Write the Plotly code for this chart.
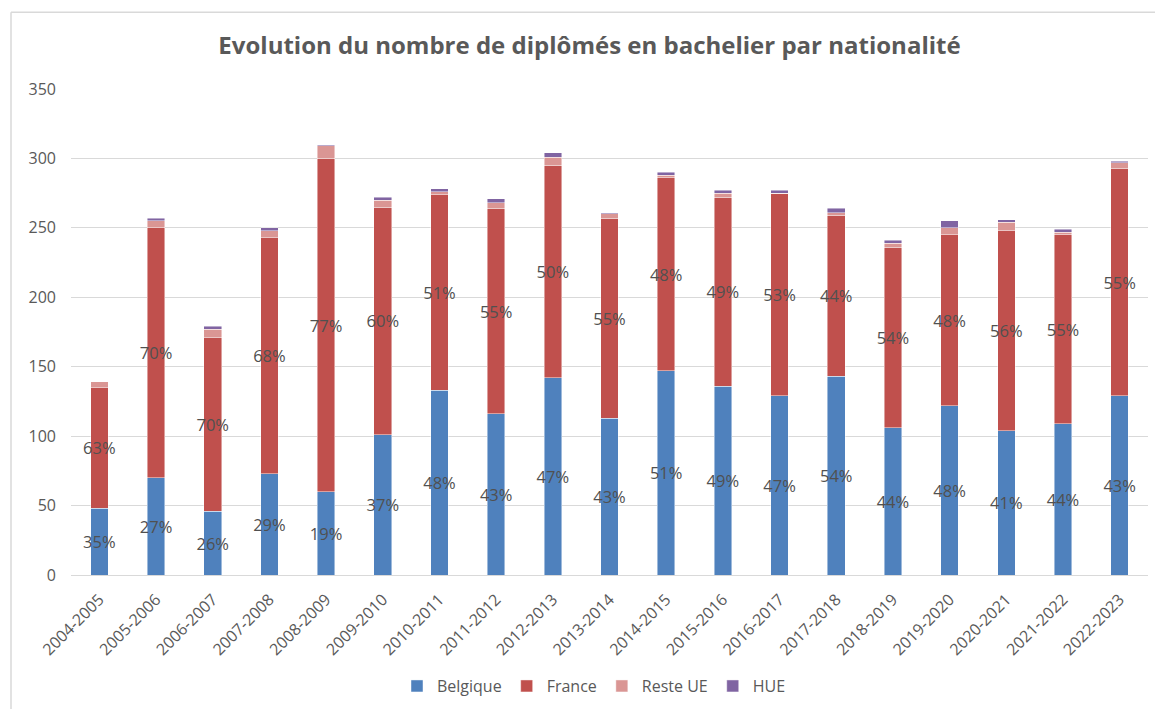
import plotly.graph_objects as go

years = ["2004-2005", "2005-2006", "2006-2007", "2007-2008", "2008-2009", "2009-2010",
         "2010-2011", "2011-2012", "2012-2013", "2013-2014", "2014-2015", "2015-2016",
         "2016-2017", "2017-2018", "2018-2019", "2019-2020", "2020-2021", "2021-2022",
         "2022-2023"]
belgique = [48, 70, 46, 73, 60, 101, 133, 116, 142, 113, 147, 136, 129, 143, 106, 122, 104, 109, 129]
france = [87, 180, 125, 170, 240, 164, 141, 148, 153, 144, 139, 136, 146, 116, 130, 123, 144, 136, 164]
reste_ue = [4, 5, 6, 5, 9, 5, 2, 4, 6, 3, 2, 3, 0, 2, 3, 5, 6, 2, 4]
hue = [0, 2, 2, 2, 1, 2, 2, 3, 3, 1, 2, 2, 2, 3, 2, 5, 2, 2, 1]

totals = [b + f + r + h for b, f, r, h in zip(belgique, france, reste_ue, hue)]
pct_bel = [f"{round(b / t * 100)}%" for b, t in zip(belgique, totals)]
pct_fra = [f"{round(f / t * 100)}%" for f, t in zip(france, totals)]

FONT = "Open Sans"
GRAY = "#595959"
LABEL = "#505050"

fig = go.Figure()
series = [
    ("Belgique", belgique, "#4F81BD", pct_bel),
    ("France", france, "#C0504D", pct_fra),
    ("Reste UE", reste_ue, "#DA9694", None),
    ("HUE", hue, "#8064A2", None),
]
for name, vals, color, txt in series:
    kw = {}
    if txt is not None:
        kw = dict(text=txt, textposition="inside", insidetextanchor="middle",
                  textangle=0, constraintext="none",
                  insidetextfont=dict(family=FONT, size=16.5, color=LABEL))
    fig.add_trace(go.Bar(
        name=name, x=years, y=vals,
        marker=dict(color=color, line=dict(color="rgba(255,255,255,0.6)", width=0.75)),
        hoverinfo="x+y+name", **kw))

fig.update_layout(
    barmode="stack",
    bargap=0.69,
    width=1155, height=709, autosize=False,
    paper_bgcolor="white", plot_bgcolor="white",
    margin=dict(l=71, r=7, t=89, b=133),
    font=dict(family=FONT, color=GRAY),
    title=dict(text="<b>Evolution du nombre de diplômés en bachelier par nationalité</b>",
               x=589.5 / 1155, xref="container", xanchor="center",
               y=1 - 46 / 709, yref="container", yanchor="middle",
               font=dict(family=FONT, size=24, color=GRAY)),
    legend=dict(orientation="h", x=0.4856, xanchor="center", y=-0.226, yanchor="middle",
                font=dict(family=FONT, size=16, color=GRAY), itemwidth=30,
                traceorder="normal"),
    yaxis=dict(range=[0, 350], dtick=50, showgrid=True, gridcolor="#D9D9D9", gridwidth=1,
               zeroline=False, showline=False, ticks="",
               tickfont=dict(family=FONT, size=16, color=GRAY), ticklabelstandoff=14),
    xaxis=dict(tickangle=-45, showline=True, linecolor="#D9D9D9", linewidth=1,
               showgrid=False, ticks="", ticklabelstandoff=8,
               tickfont=dict(family=FONT, size=16, color=GRAY)),
    showlegend=True,
)

# chart frame (light grey border, as in the original screenshot)
fig.add_shape(type="line", xref="paper", yref="paper",
              x0=(11 - 71) / 1077, x1=(11 - 71) / 1077,
              y0=(576 - 712) / 487, y1=(576 - 12) / 487,
              line=dict(color="#D9D9D9", width=1.5))
fig.add_shape(type="line", xref="paper", yref="paper",
              x0=(11 - 71) / 1077, x1=(1160 - 71) / 1077,
              y0=(576 - 12) / 487, y1=(576 - 12) / 487,
              line=dict(color="#D9D9D9", width=1.5))

fig.write_html("out.html", config={"displayModeBar": False},
               post_script="document.body.style.margin='0';")
